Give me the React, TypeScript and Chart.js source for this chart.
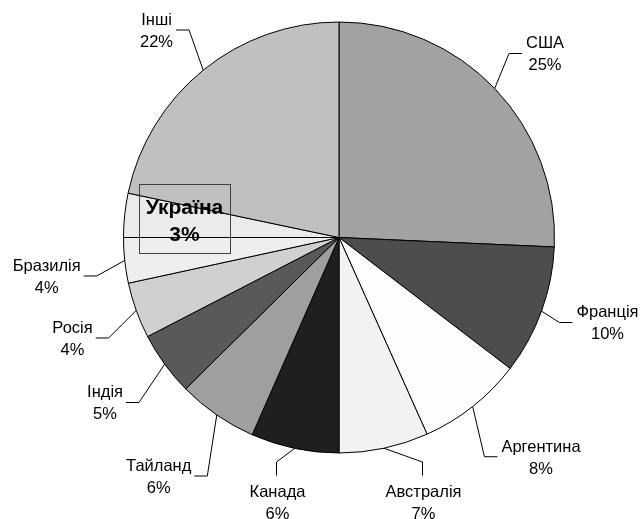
import React, { useEffect, useRef } from 'react';
import { Chart, registerables } from 'chart.js';

Chart.register(...registerables);

// ---- data ----
const categories = ['США', 'Франція', 'Аргентина', 'Австралія', 'Канада', 'Тайланд', 'Індія', 'Росія', 'Бразилія', 'Україна', 'Інші'];
const shares = [25.7, 9.7, 7.9, 6.7, 6.6, 6.0, 4.8, 4.2, 3.4, 3.3, 21.7];
const percentLabels = ['25%', '10%', '8%', '7%', '6%', '6%', '5%', '4%', '4%', '3%', '22%'];

// ---- styles ----
const sliceColors = ['#a2a2a2', '#4d4d4d', '#fdfdfd', '#f2f2f2', '#1f1f1f', '#9f9f9f', '#595959', '#d0d0d0', '#eeeeee', '#ebebeb', '#c0c0c0'];
// label placement relative to each slice: extra radius (px), angle shift (deg), leader type
const labelExtra = [60.7, 66.1, 82.6, 62.6, 56.5, 83.5, 70.8, 69.3, 79.3, -60, 60.8];
const labelShift = [1.97, -2.41, -4.32, -5.63, 1.19, 2.53, 0.81, -0.86, -1.38, 0.52, -2.27];
const labelSide = ['right', 'right', 'right', 'bottom', 'bottom', 'left', 'left', 'left', 'left', 'box', 'left'];

const FONT = '"Liberation Sans", Arial, sans-serif';

const labelPlugin = {
  id: 'pieLabels',
  afterDatasetsDraw(chart: any) {
    const ctx = chart.ctx as CanvasRenderingContext2D;
    const meta = chart.getDatasetMeta(0);
    meta.data.forEach((arc: any, i: number) => {
      const p = arc.getProps(['x', 'y', 'startAngle', 'endAngle', 'outerRadius'], true);
      const mid = (p.startAngle + p.endAngle) / 2;
      const R = p.outerRadius;
      const ax = p.x + Math.cos(mid) * R;
      const ay = p.y + Math.sin(mid) * R;
      const la = mid + (labelShift[i] * Math.PI) / 180;
      const ld = R + labelExtra[i];
      const cx = p.x + Math.cos(la) * ld;
      const cy = p.y + Math.sin(la) * ld;
      const side = labelSide[i];
      const bold = side === 'box';
      const fs = bold ? 21 : 16.5;
      const lh = bold ? 26.6 : 22;
      const capH = 0.716 * fs;
      const lines = [categories[i], percentLabels[i]];
      ctx.save();
      ctx.font = `${bold ? 'bold ' : ''}${fs}px ${FONT}`;
      const w = Math.max(...lines.map((t) => ctx.measureText(t).width));
      ctx.lineWidth = 1;
      ctx.strokeStyle = '#000';
      ctx.beginPath();
      if (side === 'right') {
        const ex = cx - w / 2 - 4;
        const bx = ex - 13;
        ctx.moveTo(ax, ay);
        ctx.lineTo(bx, cy);
        ctx.lineTo(ex, cy);
        ctx.stroke();
      } else if (side === 'left') {
        const ex = cx + w / 2 + 3;
        const bx = ex + 13;
        ctx.moveTo(ax, ay);
        ctx.lineTo(bx, cy);
        ctx.lineTo(ex, cy);
        ctx.stroke();
      } else if (side === 'bottom') {
        const ex = cx - 1;
        const ey = cy - lh / 2 - capH / 2 - 10;
        const by = ey - 13.5;
        ctx.moveTo(ax, ay);
        ctx.lineTo(ex, by);
        ctx.lineTo(ex, ey);
        ctx.stroke();
      } else if (side === 'box') {
        const left = cx - 45.3;
        const right = cx + 45.3;
        const top = cy - 36;
        const bottom = cy + 33.3;
        ctx.strokeStyle = '#404040';
        ctx.strokeRect(Math.round(left) + 0.5, Math.round(top) + 0.5, Math.round(right - left), Math.round(bottom - top));
      }
      ctx.fillStyle = '#000';
      ctx.textAlign = 'center';
      ctx.textBaseline = 'alphabetic';
      lines.forEach((t, k) => {
        ctx.fillText(t, cx, cy + (k - 0.5) * lh + capH / 2);
      });
      ctx.restore();
    });
  },
};

export default function App() {
  const ref = useRef<HTMLCanvasElement | null>(null);
  useEffect(() => {
    document.body.style.margin = '0';
    if (!ref.current) return;
    const chart = new Chart(ref.current, {
      type: 'pie',
      data: {
        labels: categories,
        datasets: [
          {
            data: shares,
            backgroundColor: sliceColors,
            borderColor: '#000',
            borderWidth: 1,
            radius: 215.5,
          } as any,
        ],
      },
      options: {
        responsive: false,
        animation: false,
        layout: { padding: { left: 38, right: 0, top: 0, bottom: 44 } },
        plugins: {
          legend: { display: false },
          tooltip: { enabled: false },
        },
      },
      plugins: [labelPlugin],
    });
    return () => chart.destroy();
  }, []);
  return (
    <div style={{ position: 'fixed', left: 0, top: 0, width: 640, height: 519, background: '#fff' }}>
      <canvas ref={ref} width={640} height={519} />
    </div>
  );
}
